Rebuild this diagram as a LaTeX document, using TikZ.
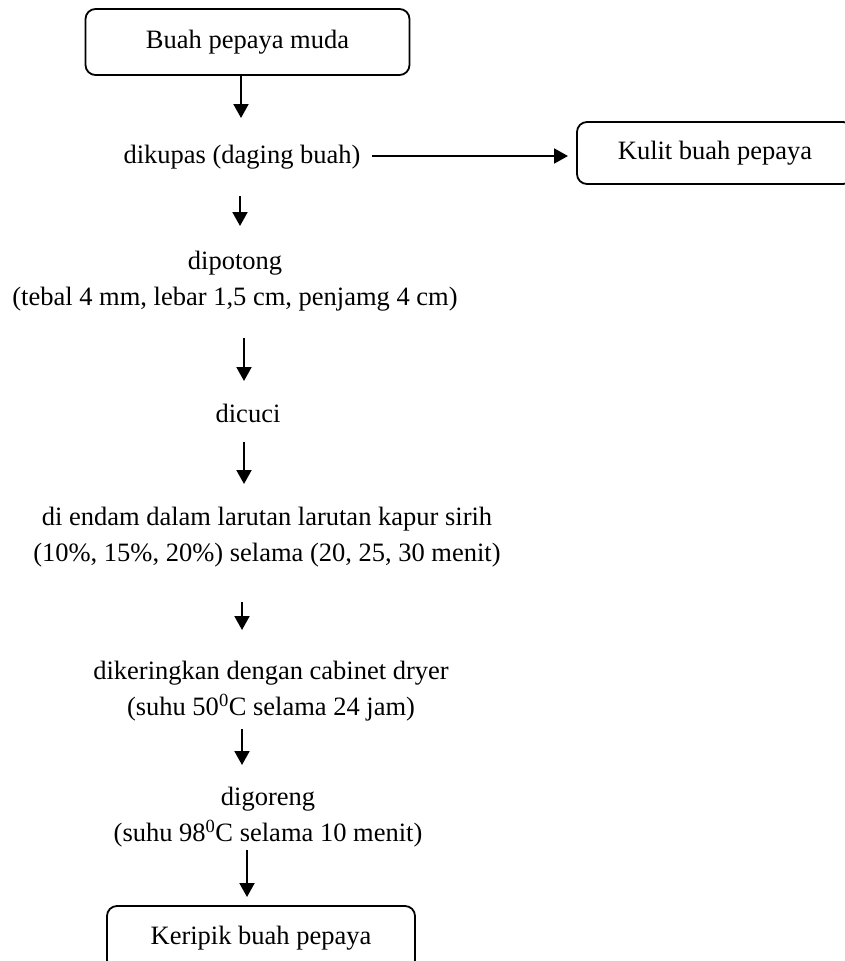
\documentclass[tikz,border=0pt]{standalone}
\usepackage{fontspec}
\setmainfont{Liberation Serif}
\usetikzlibrary{arrows.meta}
\begin{document}
\begin{tikzpicture}[x=1pt,y=-1pt,
  every node/.style={font=\fontsize{26.5}{35.5}\selectfont, inner sep=0pt, align=center},
  procbox/.style={draw, line width=1.8pt, rounded corners=10pt},
  flow/.style={line width=2pt, -{Triangle[width=15pt,length=14pt]}}]
\useasboundingbox (0,0) rectangle (845,961);
\clip (0,0) rectangle (845,961);
% boxes
\node[procbox, minimum width=324pt, minimum height=66pt] (b1) at (247.5,42) {Buah pepaya muda};
\node[procbox, minimum width=276pt, minimum height=62pt] (b2) at (715,153) {Kulit buah pepaya};
\node[procbox, minimum width=308pt, minimum height=64pt] (b3) at (261,938) {Keripik buah pepaya};
% text steps
\node (s1) at (242,157) {dikupas (daging buah)};
\node (s2) at (235,281) {dipotong\\(tebal 4 mm, lebar 1,5 cm, penjamg 4 cm)};
\node (s3) at (248,413) {dicuci};
\node (s4) at (267,537) {di endam dalam larutan larutan kapur sirih\\(10\%, 15\%, 20\%) selama (20, 25, 30 menit)};
\node (s5) at (271,691) {dikeringkan dengan cabinet dryer\\(suhu 50\textsuperscript{0}C selama 24 jam)};
\node (s6) at (268,817) {digoreng\\(suhu 98\textsuperscript{0}C selama 10 menit)};
% arrow end points
\coordinate (a1s) at (241,76);  \coordinate (a1e) at (241,118);
\coordinate (a2s) at (240,196); \coordinate (a2e) at (240,226);
\coordinate (a3s) at (244,338); \coordinate (a3e) at (244,381);
\coordinate (a4s) at (244,442); \coordinate (a4e) at (244,484);
\coordinate (a5s) at (242,602); \coordinate (a5e) at (242,630);
\coordinate (a6s) at (242,729); \coordinate (a6e) at (242,765);
\coordinate (a7s) at (247,850); \coordinate (a7e) at (247,897);
\coordinate (hs) at (372,156);  \coordinate (he) at (568,156);
\draw[flow] (a1s) -- (a1e);
\draw[flow] (a2s) -- (a2e);
\draw[flow] (a3s) -- (a3e);
\draw[flow] (a4s) -- (a4e);
\draw[flow] (a5s) -- (a5e);
\draw[flow] (a6s) -- (a6e);
\draw[flow] (a7s) -- (a7e);
\draw[flow] (hs) -- (he);
\end{tikzpicture}
\end{document}
